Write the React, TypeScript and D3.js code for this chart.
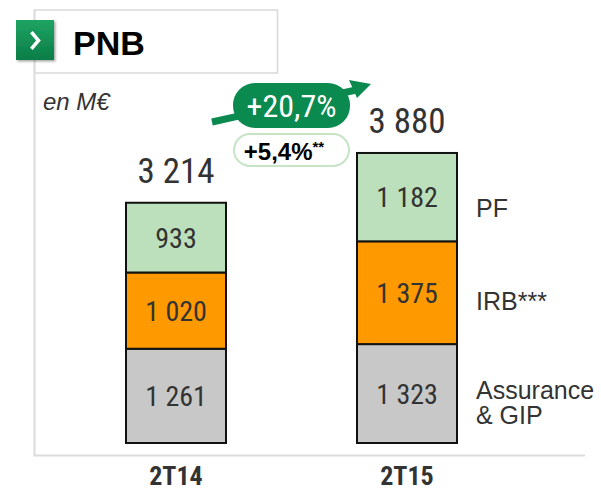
import React from "react";
import * as d3 from "d3";

const categories = ["2T14", "2T15"];
const seriesNames = ["Assurance & GIP", "IRB***", "PF"];
const assuranceGIP = [1261, 1323];
const irb = [1020, 1375];
const pf = [933, 1182];
const totals = [3214, 3880];
const growthMain = "+20,7%";
const growthSub = "+5,4%";

const colors = ["#c8c8c8", "#ff9900", "#bbe0bb"];
const NARROW = "'Liberation Sans Narrow', 'Arial Narrow', 'Roboto Condensed', sans-serif";
const SANS = "'Liberation Sans', Arial, sans-serif";

function fmt(v: number) {
  return d3.format(",")(v).replace(/,/g, " ");
}

export default function App() {
  const W = 601, H = 489;
  const x = d3.scalePoint<string>().domain(categories).range([176, 407]);
  const y = d3.scaleLinear().domain([0, 4000]).range([443, 144]);
  const bw = 100;

  const rows = categories.map((c, i) => ({
    cat: c,
    "Assurance & GIP": assuranceGIP[i],
    "IRB***": irb[i],
    PF: pf[i],
  }));
  const stack = d3.stack<any>().keys(seriesNames)(rows);

  const legendLines: string[][] = [["Assurance", "& GIP"], ["IRB***"], ["PF"]];
  const legendDy = [5, 17, 20];
  const last = categories.length - 1;

  return (
    <svg width={W} height={H} style={{ position: "absolute", left: 0, top: 0, background: "#fff" }}>
      <defs>
        <linearGradient id="ig" x1="0" y1="0" x2="0" y2="1">
          <stop offset="0" stopColor="#1fa463" />
          <stop offset="1" stopColor="#0b7d47" />
        </linearGradient>
        <filter id="sh" x="-20%" y="-20%" width="150%" height="150%">
          <feDropShadow dx="1.5" dy="1.5" stdDeviation="1.2" floodColor="#000" floodOpacity="0.35" />
        </filter>
      </defs>

      {/* frame */}
      <rect x={34.5} y={10} width={243} height={63} fill="#fff" stroke="#d9d9d9" strokeWidth={1.5} />
      <line x1={34.5} y1={10} x2={34.5} y2={455.5} stroke="#dcdcdc" strokeWidth={2} />
      <line x1={33.5} y1={455.5} x2={585} y2={455.5} stroke="#dcdcdc" strokeWidth={2} />

      {/* icon */}
      <rect x={16} y={20} width={38} height={40} fill="url(#ig)" filter="url(#sh)" />
      <path d="M32.5,33.5 L38.5,40.5 L32.5,47.5" fill="none" stroke="#fff" strokeWidth={3.5} strokeLinecap="square" />
      <text x={73} y={55} fontFamily={SANS} fontWeight="bold" fontSize={34} fill="#000">PNB</text>

      <text x={43} y={110} fontFamily={SANS} fontStyle="italic" fontSize={24} fill="#333">en M€</text>

      {/* bars */}
      {stack.map((s, si) =>
        s.map((d, i) => {
          const cx = x(categories[i])!;
          const y0 = y(d[0]), y1 = y(d[1]);
          return (
            <g key={si + "-" + i}>
              <rect x={cx - bw / 2} y={y1} width={bw} height={y0 - y1} fill={colors[si]} stroke="#111" strokeWidth={2} />
              <text x={cx} y={(y0 + y1) / 2} dy="0.36em" textAnchor="middle" fontFamily={NARROW} fontSize={28} fill="#333">
                {fmt(d[1] - d[0])}
              </text>
            </g>
          );
        })
      )}

      {/* totals */}
      {categories.map((c, i) => (
        <text key={c} x={x(c)!} y={y(totals[i]) - 20} textAnchor="middle" fontFamily={NARROW} fontSize={35} fill="#333">
          {fmt(totals[i])}
        </text>
      ))}

      {/* legend labels */}
      {stack.map((s, si) => {
        const d = s[last];
        const cy = (y(d[0]) + y(d[1])) / 2;
        return (
          <text key={si} x={476} y={cy + legendDy[si]} fontFamily={SANS} fontSize={25} fill="#333">
            {legendLines[si].map((l, li) => (
              <tspan key={li} x={476} dy={li === 0 ? 0 : 25}>{l}</tspan>
            ))}
          </text>
        );
      })}

      {/* category labels */}
      {categories.map((c) => (
        <text key={c} x={x(c)!} y={485} textAnchor="middle" fontFamily={NARROW} fontWeight="bold" fontSize={26} fill="#333">
          {c}
        </text>
      ))}

      {/* growth arrow */}
      <line x1={212} y1={122} x2={356} y2={90} stroke="#0b8a4f" strokeWidth={7} />
      <path d="M349,80 L371,84 L357,98 Z" fill="#0b8a4f" />
      <rect x={233} y={83} width={117} height={45} rx={22} fill="#0b8a4f" />
      <text x={291.5} y={117} textAnchor="middle" fontFamily={NARROW} fontSize={32} fill="#fff">{growthMain}</text>

      <rect x={234} y={134} width={115} height={32} rx={16} fill="#fff" stroke="#c6e4c6" strokeWidth={2} />
      <text x={284} y={160} textAnchor="middle" fontFamily={SANS} fontWeight="bold" fontSize={24} fill="#000">
        {growthSub}
        <tspan fontSize={15} dy={-8}>**</tspan>
      </text>
    </svg>
  );
}
